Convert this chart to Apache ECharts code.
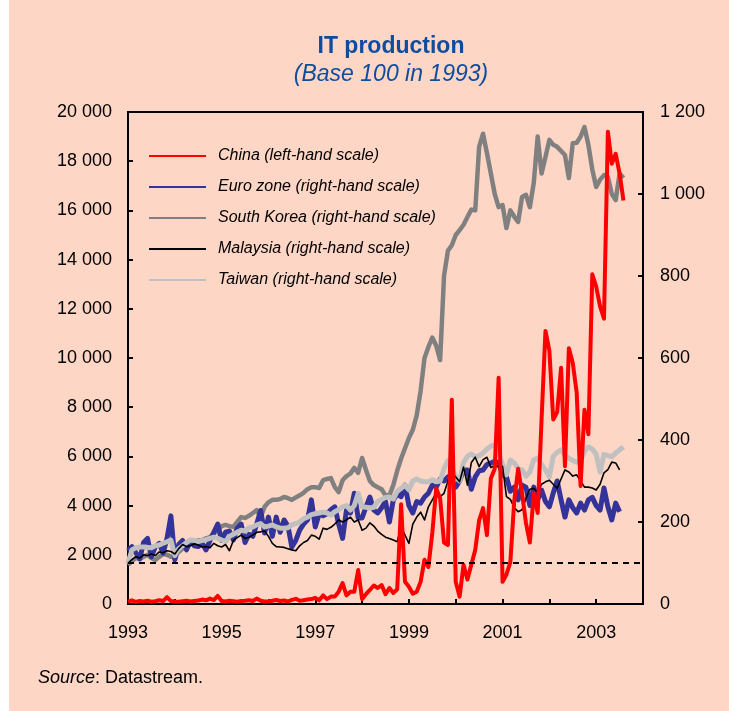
<!DOCTYPE html>
<html>
<head>
<meta charset="utf-8">
<script src="https://cdn.jsdelivr.net/npm/echarts@6/dist/echarts.min.js"></script>
<style>
  html, body { margin: 0; padding: 0; background: #ffffff; }
  #chart { width: 729px; height: 711px; }
</style>
</head>
<body>
<div id="chart"></div>
<script>
// ---- Data (monthly, Jan 1993 onward) ----
var startYear = 1993;
var endYear = 2004;
var yearLabels = ['1993', '1995', '1997', '1999', '2001', '2003'];

var china = [
  100,150,80,120,100,130,90,110,150,120,280,120,
  100,90,110,130,100,120,140,180,150,220,160,330,
  120,100,130,110,90,120,130,150,120,220,130,100,
  110,130,160,120,140,100,170,210,130,150,180,200,
  250,150,350,200,300,300,500,850,350,500,500,1380,
  200,400,570,750,650,770,400,650,450,600,4050,900,
  700,420,500,900,1800,1500,2900,4700,4300,2500,2400,8300,
  900,300,1600,1000,1600,2200,3400,3900,2800,5100,5500,9200,
  900,1200,1700,4200,5500,4500,3300,2500,4500,3700,7500,11100,
  10300,7500,7800,9600,5600,10400,9800,8600,4800,7900,6900,13400,
  12900,12100,11600,19200,17900,18300,17500,16400
];

var euroZone = [
  130,140,125,110,150,160,115,140,148,124,160,215,
  108,145,155,132,155,142,140,148,132,155,175,195,
  155,175,178,156,185,195,150,170,165,195,228,173,
  212,165,212,175,205,190,139,155,180,195,205,254,
  188,220,215,220,230,237,195,160,229,222,270,210,
  210,237,261,229,222,235,250,200,254,268,262,290,
  240,222,250,246,261,270,290,285,305,300,310,302,
  285,300,327,327,280,310,325,327,340,344,348,345,
  315,310,275,285,254,290,285,240,285,254,278,250,
  237,271,300,254,212,254,235,222,246,229,254,260,
  240,229,283,237,205,246,225
];

var southKorea = [
  95,105,112,110,115,120,112,107,115,122,120,115,
  118,127,135,142,148,152,155,156,160,163,172,180,
  190,193,190,188,200,212,210,215,222,229,212,237,
  248,254,254,256,261,258,254,260,265,271,280,285,
  285,283,302,305,307,285,273,302,312,318,332,320,
  356,327,300,290,285,280,265,265,290,325,355,380,
  405,425,460,520,600,627,650,630,595,800,862,875,
  900,912,925,944,962,960,1115,1147,1100,1050,1000,968,
  973,917,960,945,932,993,998,968,1027,1140,1050,1090,
  1132,1120,1115,1105,1095,1039,1124,1125,1140,1163,1120,1060,
  1017,1035,1046,1042,1000,985,1050,1039
];

var malaysia = [
  100,108,115,112,120,118,122,118,127,125,130,128,
  122,135,145,140,142,147,144,139,140,137,148,142,
  139,145,130,155,162,168,160,163,168,175,176,178,
  165,148,140,139,138,135,132,130,142,150,155,168,
  165,158,185,182,187,195,205,200,205,212,200,205,
  180,185,198,190,178,170,163,160,156,152,188,168,
  148,195,212,224,205,237,254,271,262,270,300,320,
  310,298,334,290,345,358,335,352,358,333,338,334,
  336,262,255,235,225,230,258,280,282,273,292,298,
  302,292,282,305,327,322,312,315,300,285,285,283,
  278,292,320,328,346,344,327
];

var taiwan = [
  100,132,137,139,139,138,137,142,144,148,152,156,
  118,135,142,150,156,155,152,155,157,160,163,160,
  156,152,165,170,175,180,178,186,188,193,196,188,
  190,193,188,185,185,186,193,196,200,208,212,218,
  220,222,224,222,217,225,230,237,240,229,240,270,
  237,236,234,236,250,255,260,261,256,275,282,290,
  278,300,305,300,298,298,303,298,300,330,350,330,
  312,300,345,360,366,359,362,368,378,385,388,368,
  340,315,351,344,330,327,312,322,352,356,340,327,
  310,360,370,376,362,356,350,346,350,372,383,378,
  365,322,365,362,359,368,376,383
];

var baseLevel = 100;

// monthly categories Jan 1993 .. Jan 2004
var months = [];
for (var y = startYear; y < endYear; y++) {
  for (var m = 1; m <= 12; m++) months.push(y + '-' + (m < 10 ? '0' + m : m));
}
months.push(endYear + '-01');

function spaced(v) {
  return String(v).replace(/\B(?=(\d{3})+(?!\d))/g, ' ');
}

var FONT = '"Liberation Sans", Arial, sans-serif';
var chart = echarts.init(document.getElementById('chart'), null, { renderer: 'canvas' });

var option = {
  backgroundColor: '#FDD6C5',
  animation: false,
  textStyle: { fontFamily: FONT },
  title: [
    {
      text: 'IT production',
      left: 386, top: 30, textAlign: 'center',
      textStyle: { fontFamily: FONT, fontSize: 23, fontWeight: 'bold', color: '#0F4C9E' }
    },
    {
      text: '(Base 100 in 1993)',
      left: 386, top: 58, textAlign: 'center',
      textStyle: { fontFamily: FONT, fontSize: 23, fontStyle: 'italic', fontWeight: 'normal', color: '#0F4C9E' }
    },
    {
      text: '{i|Source}: Datastream.',
      left: 33, top: 664,
      textStyle: {
        fontFamily: FONT, fontSize: 18, fontWeight: 'normal', color: '#000',
        rich: { i: { fontFamily: FONT, fontSize: 18, fontStyle: 'italic', color: '#000' } }
      }
    }
  ],
  graphic: [
    { type: 'rect', left: 0, top: 0, shape: { width: 9, height: 711 }, style: { fill: '#ffffff' }, silent: true }
  ],
  legend: {
    orient: 'vertical',
    left: 143, top: 143,
    itemWidth: 57, itemHeight: 14, itemGap: 15,
    data: ['China (left-hand scale)', 'Euro zone (right-hand scale)', 'South Korea (right-hand scale)', 'Malaysia (right-hand scale)', 'Taiwan (right-hand scale)'],
    itemStyle: { opacity: 0 },
    textStyle: { fontFamily: FONT, fontSize: 16, fontStyle: 'italic', color: '#000', padding: [0, 0, 0, 7] },
    selectedMode: false
  },
  grid: {
    left: 128, right: 86, top: 112, bottom: 107,
    show: true, borderColor: '#000', borderWidth: 2, backgroundColor: 'transparent'
  },
  xAxis: {
    type: 'category',
    data: months,
    boundaryGap: false,
    axisLine: { lineStyle: { color: '#000', width: 2 } },
    axisTick: { inside: true, length: 5, interval: function (i) { return i % 12 === 0; }, lineStyle: { color: '#000', width: 2 } },
    axisLabel: {
      interval: function (i) { return i % 24 === 0; },
      formatter: function (v) { var y = v.slice(0, 4); return yearLabels.indexOf(y) >= 0 ? y : ''; },
      margin: 20, fontSize: 18, color: '#000', fontFamily: FONT
    },
    splitLine: { show: false }
  },
  yAxis: [
    {
      type: 'value', position: 'left', min: 0, max: 20000, interval: 2000,
      axisLine: { show: true, lineStyle: { color: '#000', width: 2 } },
      axisTick: { show: true, inside: true, length: 5, lineStyle: { color: '#000', width: 2 } },
      axisLabel: { formatter: spaced, margin: 16, fontSize: 18, color: '#000', fontFamily: FONT },
      splitLine: { show: false }
    },
    {
      type: 'value', position: 'right', min: 0, max: 1200, interval: 200,
      axisLine: { show: true, lineStyle: { color: '#000', width: 2 } },
      axisTick: { show: true, inside: true, length: 5, lineStyle: { color: '#000', width: 2 } },
      axisLabel: { formatter: spaced, margin: 17, fontSize: 18, color: '#000', fontFamily: FONT },
      splitLine: { show: false }
    }
  ],
  series: [
    {
      name: 'South Korea (right-hand scale)', type: 'line', yAxisIndex: 1, data: southKorea,
      symbol: 'none', lineStyle: { color: '#808080', width: 4.5, join: 'round' }, itemStyle: { color: '#808080' },
      markLine: {
        silent: true, symbol: 'none', label: { show: false },
        lineStyle: { color: '#000', width: 2, type: [6, 5] },
        data: [{ yAxis: baseLevel }]
      }
    },
    {
      name: 'Euro zone (right-hand scale)', type: 'line', yAxisIndex: 1, data: euroZone,
      symbol: 'none', lineStyle: { color: '#333399', width: 5, join: 'round' }, itemStyle: { color: '#333399' }
    },
    {
      name: 'Taiwan (right-hand scale)', type: 'line', yAxisIndex: 1, data: taiwan,
      symbol: 'none', lineStyle: { color: '#C0C0C0', width: 5, join: 'round' }, itemStyle: { color: '#C0C0C0' }
    },
    {
      name: 'Malaysia (right-hand scale)', type: 'line', yAxisIndex: 1, data: malaysia,
      symbol: 'none', lineStyle: { color: '#000000', width: 1.6, join: 'round' }, itemStyle: { color: '#000000' }
    },
    {
      name: 'China (left-hand scale)', type: 'line', yAxisIndex: 0, data: china,
      symbol: 'none', lineStyle: { color: '#FF0000', width: 4, join: 'round' }, itemStyle: { color: '#FF0000' }
    }
  ]
};
chart.setOption(option);
</script>
</body>
</html>
